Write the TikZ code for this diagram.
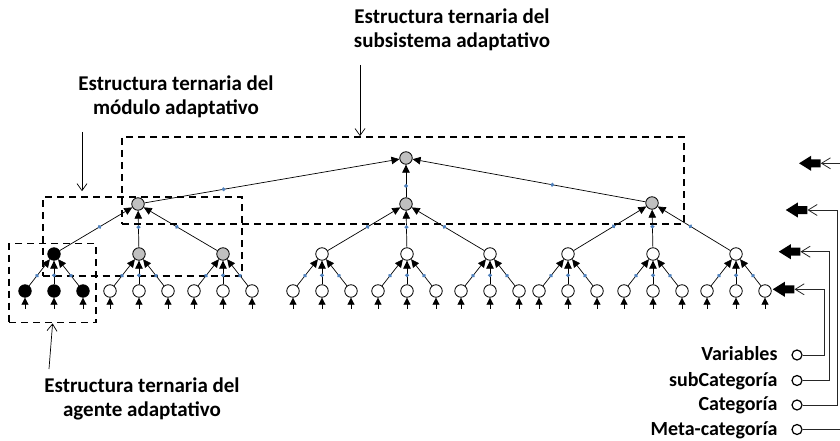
\documentclass[tikz,border=0pt]{standalone}
\usepackage{fontspec}
\setmainfont{Carlito}
\usepackage{tikz}
\usetikzlibrary{arrows.meta,positioning,shapes.geometric,shapes.arrows,decorations.markings}
\definecolor{blipblue}{RGB}{79,129,189}
\definecolor{nodegray}{RGB}{192,192,192}
\tikzset{
  wnode/.style={circle, draw, fill=white, line width=0.8pt, minimum size=12.5pt, inner sep=0pt},
  gnode/.style={wnode, fill=nodegray},
  bnode/.style={wnode, fill=black},
  link/.style={line width=0.7pt, -{Triangle[length=8pt,width=7.5pt]}},
  feed/.style={line width=0.7pt, -{Triangle[length=7pt,width=7pt]}},
  blipat/.style={postaction={decorate, decoration={markings,
      mark=at position #1 with {\fill[blipblue] (-2pt,0pt) -- (0pt,2.2pt) -- (2pt,0pt) -- (0pt,-2.2pt) -- cycle;}}}},
  dbox/.style={draw, line width=1.8pt, dash pattern=on 7pt off 5pt, inner sep=0pt},
  lbl/.style={font=\fontsize{21}{24}\selectfont\bfseries, align=center},
  callout/.style={line width=0.7pt, -{Straight Barb[length=7pt,width=10pt]}},
  lgdtxt/.style={font=\fontsize{20}{24}\selectfont\bfseries, anchor=base east},
  lgdc/.style={circle, draw, line width=1.2pt, minimum size=10pt, inner sep=0pt},
  lgdline/.style={line width=0.8pt, draw=black!85, -{Straight Barb[length=9pt,width=11pt]}},
  blk/.style={single arrow, fill=black, shape border rotate=180, minimum height=21.5pt,
              minimum width=15pt, inner sep=0pt, inner ysep=3.8pt,
              single arrow head extend=3.6pt, single arrow tip angle=64},
}

\begin{document}
\begin{tikzpicture}[x=1pt, y=-1pt]
  \clip (0,0) rectangle (840,441);
  % dashed frames
  \node[dbox, minimum width=562pt, minimum height=87pt] (sbox) at (403,180.5) {};
  \node[dbox, minimum width=199pt, minimum height=79pt] (mbox) at (142.2,236.6) {};
  \node[dbox, minimum width=87pt, minimum height=79pt] (abox) at (52.6,283) {};

  % tree
  \node[gnode] (root) at (406,158) {};
  \node[gnode] (t1) at (138,204) {};
  \node[gnode] (t2) at (406,204) {};
  \node[gnode] (t3) at (652,203) {};
  \draw[link, blipat=0.31] (t1) -- (root);
  \draw[link, blipat=0.35] (t2) -- (root);
  \draw[link, blipat=0.40] (t3) -- (root);
  \foreach \i/\x/\ptop/\cmid/\cleaf in {1/54/t1/bnode/bnode, 2/139/t1/gnode/wnode,
      3/223/t1/gnode/wnode, 4/322/t2/wnode/wnode, 5/407/t2/wnode/wnode,
      6/490/t2/wnode/wnode, 7/568/t3/wnode/wnode, 8/653/t3/wnode/wnode,
      9/736/t3/wnode/wnode}{
    \node[\cmid] (m\i) at (\x,254) {};
    \draw[link, blipat=0.55] (m\i) -- (\ptop);
    \foreach \k/\dx in {1/-29,2/0,3/29}{
      \node[\cleaf] (l\i\k) at (\x+\dx,291) {};
      \coordinate (f\i\k) at ([yshift=-11pt]l\i\k.south);
      \draw[feed] (f\i\k) -- (l\i\k);
      \draw[link, blipat=0.38] (l\i\k) -- (m\i);
    }
  }

  % labels
  \node[lbl] (lsub) at (452,30) {Estructura ternaria del\\subsistema adaptativo};
  \node[lbl] (lmod) at (176,97) {Estructura ternaria del\\módulo adaptativo};
  \node[lbl] (lage) at (142,399) {Estructura ternaria del\\agente adaptativo};
  \coordinate (c1) at (360,65);
  \coordinate (c2) at (82,132);
  \coordinate (c3) at (49,369);
  \draw[callout] (c1) -- (c1 |- sbox.north);
  \draw[callout, shorten >=5pt] (c2) -- (c2 |- mbox.north);
  \draw[callout] (c3) -- (abox.south);

  % legend
  \node[blk] (a1) at (813,163.3) {};
  \node[blk] (a2) at (799.7,210) {};
  \node[blk] (a3) at (792.7,251.7) {};
  \node[blk] (a4) at (786.7,289.3) {};
  \node[lgdc] (cv) at (797,355) {};
  \node[lgdc] (cs) at (797,380.5) {};
  \node[lgdc] (cc) at (797,405) {};
  \node[lgdc] (cm) at (797,429.5) {};
  \node[lgdtxt] (tv) at (781,360.5) {Variables};
  \node[lgdtxt] (ts) at (781,386.5) {subCategoría};
  \node[lgdtxt] (tc) at (781,410) {Categoría};
  \node[lgdtxt] (tm) at (781,435) {Meta-categoría};
  \draw[lgdline] (cv.east) -- ++(22,0) |- (a4.tail);
  \draw[lgdline] (cs.east) -- ++(27,0) |- (a3.tail);
  \draw[lgdline] (cc.east) -- ++(35,0) |- (a2.tail);
  \draw[lgdline] (cm.east) -- ++(45,0) |- (a1.tail);
\end{tikzpicture}
\end{document}
